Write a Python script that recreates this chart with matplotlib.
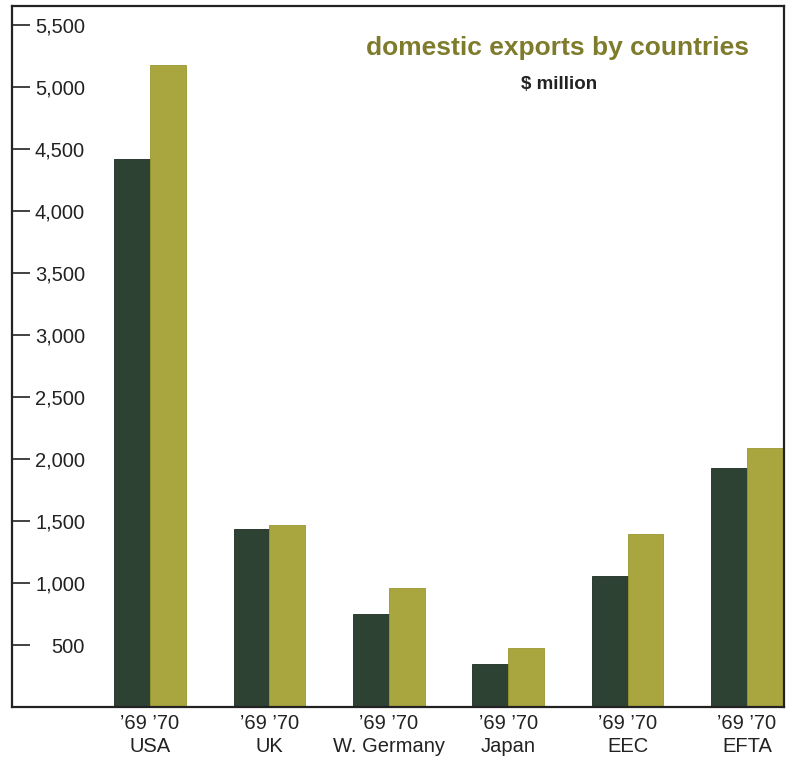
import matplotlib
matplotlib.use('Agg')
import matplotlib.pyplot as plt
import numpy as np

plt.rcParams['font.family'] = ['Liberation Sans', 'DejaVu Sans']

countries = ['USA', 'UK', 'W. Germany', 'Japan', 'EEC', 'EFTA']
exports_69 = [4420, 1435, 750, 347, 1056, 1927]
exports_70 = [5180, 1468, 960, 476, 1395, 2089]
y_ticks = [500, 1000, 1500, 2000, 2500, 3000, 3500, 4000, 4500, 5000, 5500]
y_tick_labels = ['500', '1,000', '1,500', '2,000', '2,500', '3,000',
                 '3,500', '4,000', '4,500', '5,000', '5,500']

dark = '#2e4233'
olive = '#a9a63f'
ink = '#222222'

fig = plt.figure(figsize=(7.94, 7.63), dpi=100)
ax = fig.add_axes([12/794, 1 - 707/763, (784 - 12)/794, (707 - 6)/763])

x = np.arange(len(countries))
w = 0.30
ax.bar(x - w/2, exports_69, width=w, color=dark, edgecolor='#1d2a20', linewidth=0.6)
ax.bar(x + w/2, exports_70, width=w, color=olive, edgecolor='#9a972f', linewidth=0.6)

ax.set_xlim(-1.156, 5.31)
ax.set_ylim(0, 5655)

ax.set_yticks(y_ticks)
ax.set_yticklabels(y_tick_labels)
ax.tick_params(axis='y', direction='in', length=13, width=1.2, color=ink,
               pad=-52.6, labelsize=14.5, labelcolor=ink)

ax.set_xticks(x)
ax.set_xticklabels(['\u201969 \u201970\n' + c for c in countries],
                   linespacing=1.3)
ax.tick_params(axis='x', length=0, pad=5, labelsize=14.5, labelcolor=ink)

for s in ax.spines.values():
    s.set_linewidth(1.6)
    s.set_color(ink)

ax.text(0.707, 0.94, 'domestic exports by countries', transform=ax.transAxes,
        ha='center', va='center', fontsize=19, fontweight='bold', color='#7e7c2c')
ax.text(0.709, 0.888, '\\$ million', transform=ax.transAxes,
        ha='center', va='center', fontsize=13.5, fontweight='bold', color=ink)

fig.savefig('out.png', dpi=100)
